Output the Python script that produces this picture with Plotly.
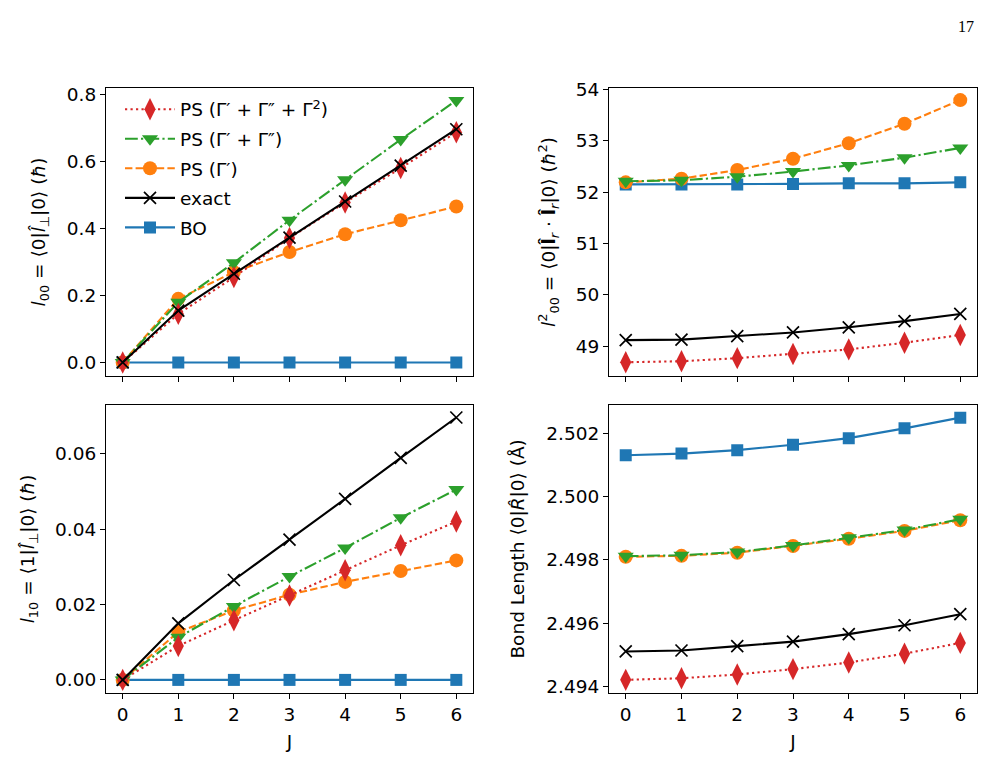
import plotly.graph_objects as go
from plotly.subplots import make_subplots

J = [0, 1, 2, 3, 4, 5, 6]

# Panel (a): l_00
l00_full = [0.0, 0.145, 0.255, 0.372, 0.478, 0.581, 0.688]
l00_g12 = [0.0, 0.180, 0.298, 0.425, 0.546, 0.666, 0.783]
l00_g1 = [0.0, 0.190, 0.270, 0.330, 0.383, 0.425, 0.466]
l00_exact = [0.0, 0.155, 0.265, 0.373, 0.481, 0.588, 0.697]
l00_bo = [0.0, 0.0, 0.0, 0.0, 0.0, 0.0, 0.0]

# Panel (b): l^2_00
l2_full = [48.69, 48.71, 48.77, 48.85, 48.94, 49.07, 49.22]
l2_g12 = [52.21, 52.23, 52.30, 52.40, 52.52, 52.67, 52.86]
l2_g1 = [52.19, 52.26, 52.43, 52.65, 52.95, 53.33, 53.79]
l2_exact = [49.12, 49.13, 49.20, 49.27, 49.37, 49.49, 49.63]
l2_bo = [52.15, 52.15, 52.15, 52.16, 52.17, 52.17, 52.19]

# Panel (c): l_10
l10_full = [0.0, 0.0090, 0.0158, 0.0224, 0.0291, 0.0357, 0.0420]
l10_g12 = [0.0, 0.0113, 0.0195, 0.0274, 0.0350, 0.0430, 0.0505]
l10_g1 = [0.0, 0.0127, 0.0184, 0.0226, 0.0260, 0.0289, 0.0317]
l10_exact = [0.0, 0.0150, 0.0265, 0.0372, 0.0480, 0.0589, 0.0696]
l10_bo = [0.0, 0.0, 0.0, 0.0, 0.0, 0.0, 0.0]

# Panel (d): bond length
R_full = [2.49420, 2.49425, 2.49437, 2.49454, 2.49475, 2.49503, 2.49537]
R_g12 = [2.49812, 2.49815, 2.49825, 2.49846, 2.49870, 2.49895, 2.49929]
R_g1 = [2.49810, 2.49813, 2.49823, 2.49844, 2.49867, 2.49892, 2.49926]
R_exact = [2.49510, 2.49513, 2.49527, 2.49541, 2.49565, 2.49593, 2.49628]
R_bo = [2.50132, 2.50137, 2.50148, 2.50165, 2.50186, 2.50217, 2.50251]

names = ["PS (Γ′ + Γ″ + Γ<sup>2</sup>)", "PS (Γ′ + Γ″)", "PS (Γ′)", "exact", "BO"]

RED, GREEN, ORANGE, BLUE, BLACK = "#d62728", "#2ca02c", "#ff7f0e", "#1f77b4", "#000000"

styles = {
    "full": dict(color=RED, dash="2.2px,3.3px", symbol="diamond-tall", size=16, rank=1),
    "g12": dict(color=GREEN, dash="12.8px,3.2px,2.2px,3.2px", symbol="triangle-down", size=14, rank=2),
    "g1": dict(color=ORANGE, dash="7.4px,3.2px", symbol="circle", size=14, rank=3),
    "exact": dict(color=BLACK, dash="solid", symbol="x-thin", size=12, rank=4),
    "bo": dict(color=BLUE, dash="solid", symbol="square", size=12, rank=5),
}
label = {"full": names[0], "g12": names[1], "g1": names[2], "exact": names[3], "bo": names[4]}

panels = [
    (1, 1, {"bo": l00_bo, "g1": l00_g1, "g12": l00_g12, "full": l00_full, "exact": l00_exact}),
    (1, 2, {"bo": l2_bo, "g1": l2_g1, "g12": l2_g12, "full": l2_full, "exact": l2_exact}),
    (2, 1, {"bo": l10_bo, "g1": l10_g1, "g12": l10_g12, "full": l10_full, "exact": l10_exact}),
    (2, 2, {"bo": R_bo, "g1": R_g1, "g12": R_g12, "full": R_full, "exact": R_exact}),
]

fig = make_subplots(rows=2, cols=2)

for r, c, series in panels:
    first = (r == 1 and c == 1)
    for key in ["bo", "g1", "g12", "full", "exact"]:
        st = styles[key]
        if key == "exact":
            marker = dict(symbol=st["symbol"], size=st["size"], color=BLACK,
                          line=dict(color=BLACK, width=1.7))
        else:
            marker = dict(symbol=st["symbol"], size=st["size"], color=st["color"],
                          line=dict(width=0))
        fig.add_trace(go.Scatter(
            x=J, y=series[key], mode="lines+markers", name=label[key],
            line=dict(color=st["color"], width=2.1, dash=st["dash"]),
            marker=marker, showlegend=first, legendrank=st["rank"],
            legendgroup=key,
        ), row=r, col=c)

FONT = "DejaVu Sans"
TICK = 18.5
TITLE = 18.5
xl = [106 / 1004, 473 / 1004]
xr = [609 / 1004, 977 / 1004]
yt = [1 - 373 / 765, 1 - 80 / 765]
yb = [1 - 695 / 765, 1 - 402 / 765]

axis_common = dict(showline=True, linecolor="black", linewidth=1.1, mirror=True,
                   ticks="outside", ticklen=5, tickwidth=1.1, tickcolor="black",
                   showgrid=False, zeroline=False,
                   tickfont=dict(family=FONT, size=TICK, color="black"))

tfont = dict(family=FONT, size=TITLE, color="black")
xcommon = dict(axis_common, range=[-0.3, 6.3], tickvals=J)
fig.update_layout(
    xaxis=dict(xcommon, domain=xl, anchor="y", showticklabels=False),
    xaxis2=dict(xcommon, domain=xr, anchor="y2", showticklabels=False),
    xaxis3=dict(xcommon, domain=xl, anchor="y3",
                title=dict(text="J", font=tfont, standoff=10)),
    xaxis4=dict(xcommon, domain=xr, anchor="y4",
                title=dict(text="J", font=tfont, standoff=10)),
    yaxis=dict(axis_common, domain=yt, anchor="x", range=[-0.041, 0.821],
               tickvals=[0.0, 0.2, 0.4, 0.6, 0.8], ticktext=["0.0", "0.2", "0.4", "0.6", "0.8"],
               title=dict(text="<i>l</i><sub>00</sub> = ⟨0|<i>l̂</i><sub>⊥</sub>|0⟩ (<i>ħ</i>)",
                          font=tfont, standoff=16)),
    yaxis2=dict(axis_common, domain=yt, anchor="x2", range=[48.42, 54.03],
                tickvals=[49, 50, 51, 52, 53, 54],
                title=dict(text="<i>l</i><sup>2</sup><sub>00</sub> = ⟨0|<b>l̂</b><sub><i>r</i></sub> · <b>l̂</b><sub><i>r</i></sub>|0⟩ (<i>ħ</i><sup>2</sup>)",
                           font=tfont, standoff=15)),
    yaxis3=dict(axis_common, domain=yb, anchor="x3", range=[-0.0035, 0.073],
                tickvals=[0.0, 0.02, 0.04, 0.06], ticktext=["0.00", "0.02", "0.04", "0.06"],
                title=dict(text="<i>l</i><sub>10</sub> = ⟨1|<i>l̂</i><sub>⊥</sub>|0⟩ (<i>ħ</i>)",
                           font=tfont, standoff=15)),
    yaxis4=dict(axis_common, domain=yb, anchor="x4", range=[2.49378, 2.50292],
                tickvals=[2.494, 2.496, 2.498, 2.500, 2.502],
                ticktext=["2.494", "2.496", "2.498", "2.500", "2.502"],
                title=dict(text="Bond Length ⟨0|<i>R̂</i>|0⟩ (Å)",
                           font=tfont, standoff=16)),
)

fig.update_layout(
    width=1004, height=765,
    margin=dict(l=0, r=0, t=0, b=0),
    paper_bgcolor="white", plot_bgcolor="white",
    font=dict(family=FONT, size=TICK, color="black"),
    showlegend=True,
    legend=dict(x=120 / 1004, y=1 - 83 / 765, xanchor="left", yanchor="top",
                bgcolor="rgba(0,0,0,0)", borderwidth=0,
                font=dict(family=FONT, size=18.5, color="black"),
                tracegroupgap=2.5, itemwidth=50, traceorder="grouped"),
    annotations=[dict(text="17", x=976 / 1004, y=1 - 18 / 765, xref="paper", yref="paper",
                      xanchor="right", yanchor="middle", showarrow=False,
                      font=dict(family="Liberation Serif", size=16, color="black"))],
)

fig.write_html("out.html")
